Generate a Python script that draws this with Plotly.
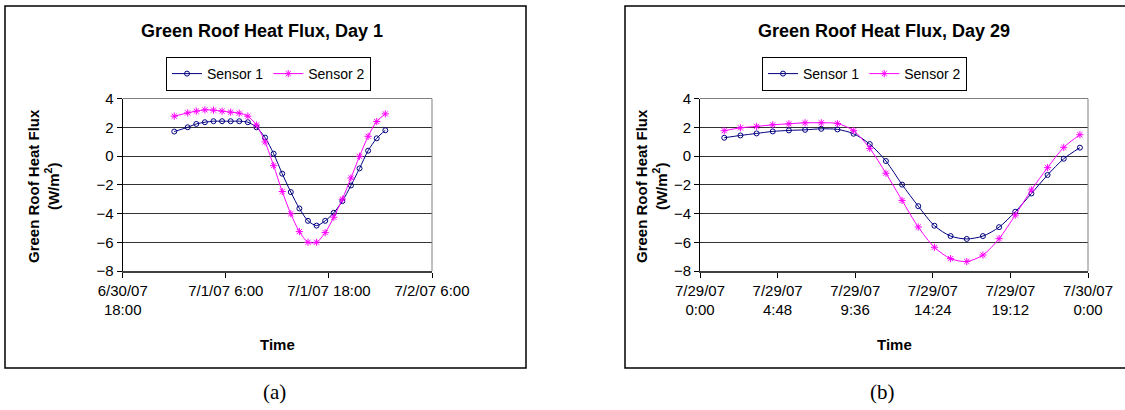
import plotly.graph_objects as go
from datetime import datetime, timedelta

# ---------------- data ----------------
day1_times = [datetime(2007, 7, 1, 0, 0)] + [datetime(2007, 7, 1, 1, 34) + timedelta(hours=k) for k in range(24)]
day1_sensor1 = [1.70, 2.00, 2.23, 2.35, 2.42, 2.42, 2.42, 2.42, 2.35, 2.00, 1.28, 0.16, -1.23,
                -2.51, -3.65, -4.51, -4.84, -4.51, -3.95, -3.14, -2.05, -0.86, 0.37, 1.23, 1.79]
day1_sensor2 = [2.77, 3.00, 3.12, 3.21, 3.19, 3.12, 3.05, 2.98, 2.77, 2.16, 0.98, -0.67, -2.47,
                -4.02, -5.26, -6.00, -6.00, -5.33, -4.26, -3.00, -1.53, -0.02, 1.37, 2.40, 2.93]

day29_times = [datetime(2007, 7, 29, 1, 30) + timedelta(hours=k) for k in range(23)]
day29_sensor1 = [1.27, 1.43, 1.57, 1.71, 1.78, 1.82, 1.89, 1.85, 1.55, 0.83, -0.35, -1.99,
                 -3.49, -4.85, -5.57, -5.77, -5.57, -4.95, -3.88, -2.61, -1.32, -0.19, 0.58]
day29_sensor2 = [1.76, 1.96, 2.06, 2.17, 2.24, 2.31, 2.31, 2.26, 1.76, 0.53, -1.20, -3.09,
                 -4.94, -6.35, -7.14, -7.34, -6.89, -5.75, -4.11, -2.36, -0.81, 0.60, 1.48]

day1_tickvals = [datetime(2007, 6, 30, 18), datetime(2007, 7, 1, 6), datetime(2007, 7, 1, 18), datetime(2007, 7, 2, 6)]
day1_ticktext = ["6/30/07<br>18:00", "7/1/07 6:00", "7/1/07 18:00", "7/2/07 6:00"]
day29_tickvals = [datetime(2007, 7, 29, 0, 0), datetime(2007, 7, 29, 4, 48), datetime(2007, 7, 29, 9, 36),
                  datetime(2007, 7, 29, 14, 24), datetime(2007, 7, 29, 19, 12), datetime(2007, 7, 30, 0, 0)]
day29_ticktext = ["7/29/07<br>0:00", "7/29/07<br>4:48", "7/29/07<br>9:36",
                  "7/29/07<br>14:24", "7/29/07<br>19:12", "7/30/07<br>0:00"]
y_ticks = [4, 2, 0, -2, -4, -6, -8]

W, H = 1125, 410
FONT = "Liberation Sans, Arial, sans-serif"
NAVY = "#000080"
MAG = "#FF00FF"

def px(x):
    return x / W

def py(y):
    return 1 - y / H

fig = go.Figure()

def add_pair(times, s1, s2, xa, ya, leg):
    fig.add_trace(go.Scatter(x=times, y=s1, name="Sensor 1", mode="lines+markers",
                             line=dict(color=NAVY, width=1, shape="spline", smoothing=0.8),
                             marker=dict(symbol="circle-open", size=5, color=NAVY, line=dict(width=1)),
                             xaxis=xa, yaxis=ya, legend=leg))
    fig.add_trace(go.Scatter(x=times, y=s2, name="Sensor 2", mode="lines+markers",
                             line=dict(color=MAG, width=1, shape="spline", smoothing=0.8),
                             marker=dict(symbol="asterisk-open", size=6, color=MAG, line=dict(width=1, color=MAG)),
                             xaxis=xa, yaxis=ya, legend=leg))

add_pair(day1_times, day1_sensor1, day1_sensor2, "x", "y", "legend")
add_pair(day29_times, day29_sensor1, day29_sensor2, "x2", "y2", "legend2")

ydom = [py(271), py(98.5)]
common_x = dict(showgrid=False, showline=True, linecolor="#404040", linewidth=1.5, automargin=False,
                ticks="outside", ticklen=5, tickcolor="#000", tickwidth=1,
                tickfont=dict(family=FONT, size=15, color="#000"), zeroline=False)
common_y = dict(range=[-8, 4], tickvals=y_ticks, showgrid=True, gridcolor="#333", gridwidth=1,
                showline=True, linecolor="#000", linewidth=1, ticks="outside", ticklen=5, automargin=False,
                tickcolor="#000", tickfont=dict(family=FONT, size=15, color="#000"), zeroline=False)

fig.update_layout(
    width=W, height=H, margin=dict(l=0, r=0, t=0, b=0, pad=0, autoexpand=False),
    paper_bgcolor="white", plot_bgcolor="white",
    xaxis=dict(domain=[px(122.7), px(432)], anchor="y",
               range=[day1_tickvals[0], day1_tickvals[-1]],
               tickvals=day1_tickvals, ticktext=day1_ticktext, **common_x),
    yaxis=dict(domain=ydom, anchor="x", **common_y),
    xaxis2=dict(domain=[px(700), px(1088)], anchor="y2",
                range=[day29_tickvals[0], day29_tickvals[-1]],
                tickvals=day29_tickvals, ticktext=day29_ticktext, **common_x),
    yaxis2=dict(domain=ydom, anchor="x2", **common_y),
    legend=dict(x=px(166), y=py(57), xanchor="left", yanchor="top", orientation="h",
                bordercolor="#000", borderwidth=1, bgcolor="white",
                font=dict(family=FONT, size=14, color="#000"), itemwidth=30),
    legend2=dict(x=px(762), y=py(57), xanchor="left", yanchor="top", orientation="h",
                 bordercolor="#000", borderwidth=1, bgcolor="white",
                 font=dict(family=FONT, size=14, color="#000"), itemwidth=30),
    showlegend=True,
)

shapes = []
# chart frames
shapes.append(dict(type="rect", xref="paper", yref="paper", x0=px(5), x1=px(526), y0=py(368), y1=py(6),
                   line=dict(color="#000", width=1.5)))
shapes.append(dict(type="rect", xref="paper", yref="paper", x0=px(625), x1=px(1130), y0=py(368), y1=py(6),
                   line=dict(color="#000", width=1.5)))
# plot-area gray top/right borders
for (xl, xr) in [(122.7, 432), (700, 1088)]:
    shapes.append(dict(type="line", xref="paper", yref="paper", x0=px(xl), x1=px(xr), y0=ydom[1], y1=ydom[1],
                       line=dict(color="#808080", width=1)))
    shapes.append(dict(type="line", xref="paper", yref="paper", x0=px(xr), x1=px(xr), y0=ydom[0], y1=ydom[1],
                       line=dict(color="#808080", width=1)))
fig.update_layout(shapes=shapes)

ann = []
for cx, title in [(262, "Green Roof Heat Flux, Day 1"), (884, "Green Roof Heat Flux, Day 29")]:
    ann.append(dict(text="<b>" + title + "</b>", x=px(cx), y=py(31), xref="paper", yref="paper",
                    xanchor="center", yanchor="middle", showarrow=False,
                    font=dict(family=FONT, size=18, color="#000")))
for cx in [44, 652]:
    ann.append(dict(text="<b>Green Roof Heat Flux</b><br><b>(W/m<sup>2</sup>)</b>", x=px(cx), y=py(186),
                    xref="paper", yref="paper", xanchor="center", yanchor="middle", showarrow=False,
                    textangle=-90, font=dict(family=FONT, size=15, color="#000")))
for cx in [277, 894]:
    ann.append(dict(text="<b>Time</b>", x=px(cx), y=py(344), xref="paper", yref="paper",
                    xanchor="center", yanchor="middle", showarrow=False,
                    font=dict(family=FONT, size=15, color="#000")))
for cx, cap in [(274, "(a)"), (882, "(b)")]:
    ann.append(dict(text=cap, x=px(cx), y=py(392), xref="paper", yref="paper",
                    xanchor="center", yanchor="middle", showarrow=False,
                    font=dict(family="Liberation Serif, Times New Roman, serif", size=21, color="#000")))
fig.update_layout(annotations=ann)

# remove the default 8px page margin so the figure fills the window exactly
fig.write_html("out.html", config={"displayModeBar": False},
               post_script="document.body.style.margin='0px';document.body.style.overflow='hidden';")
